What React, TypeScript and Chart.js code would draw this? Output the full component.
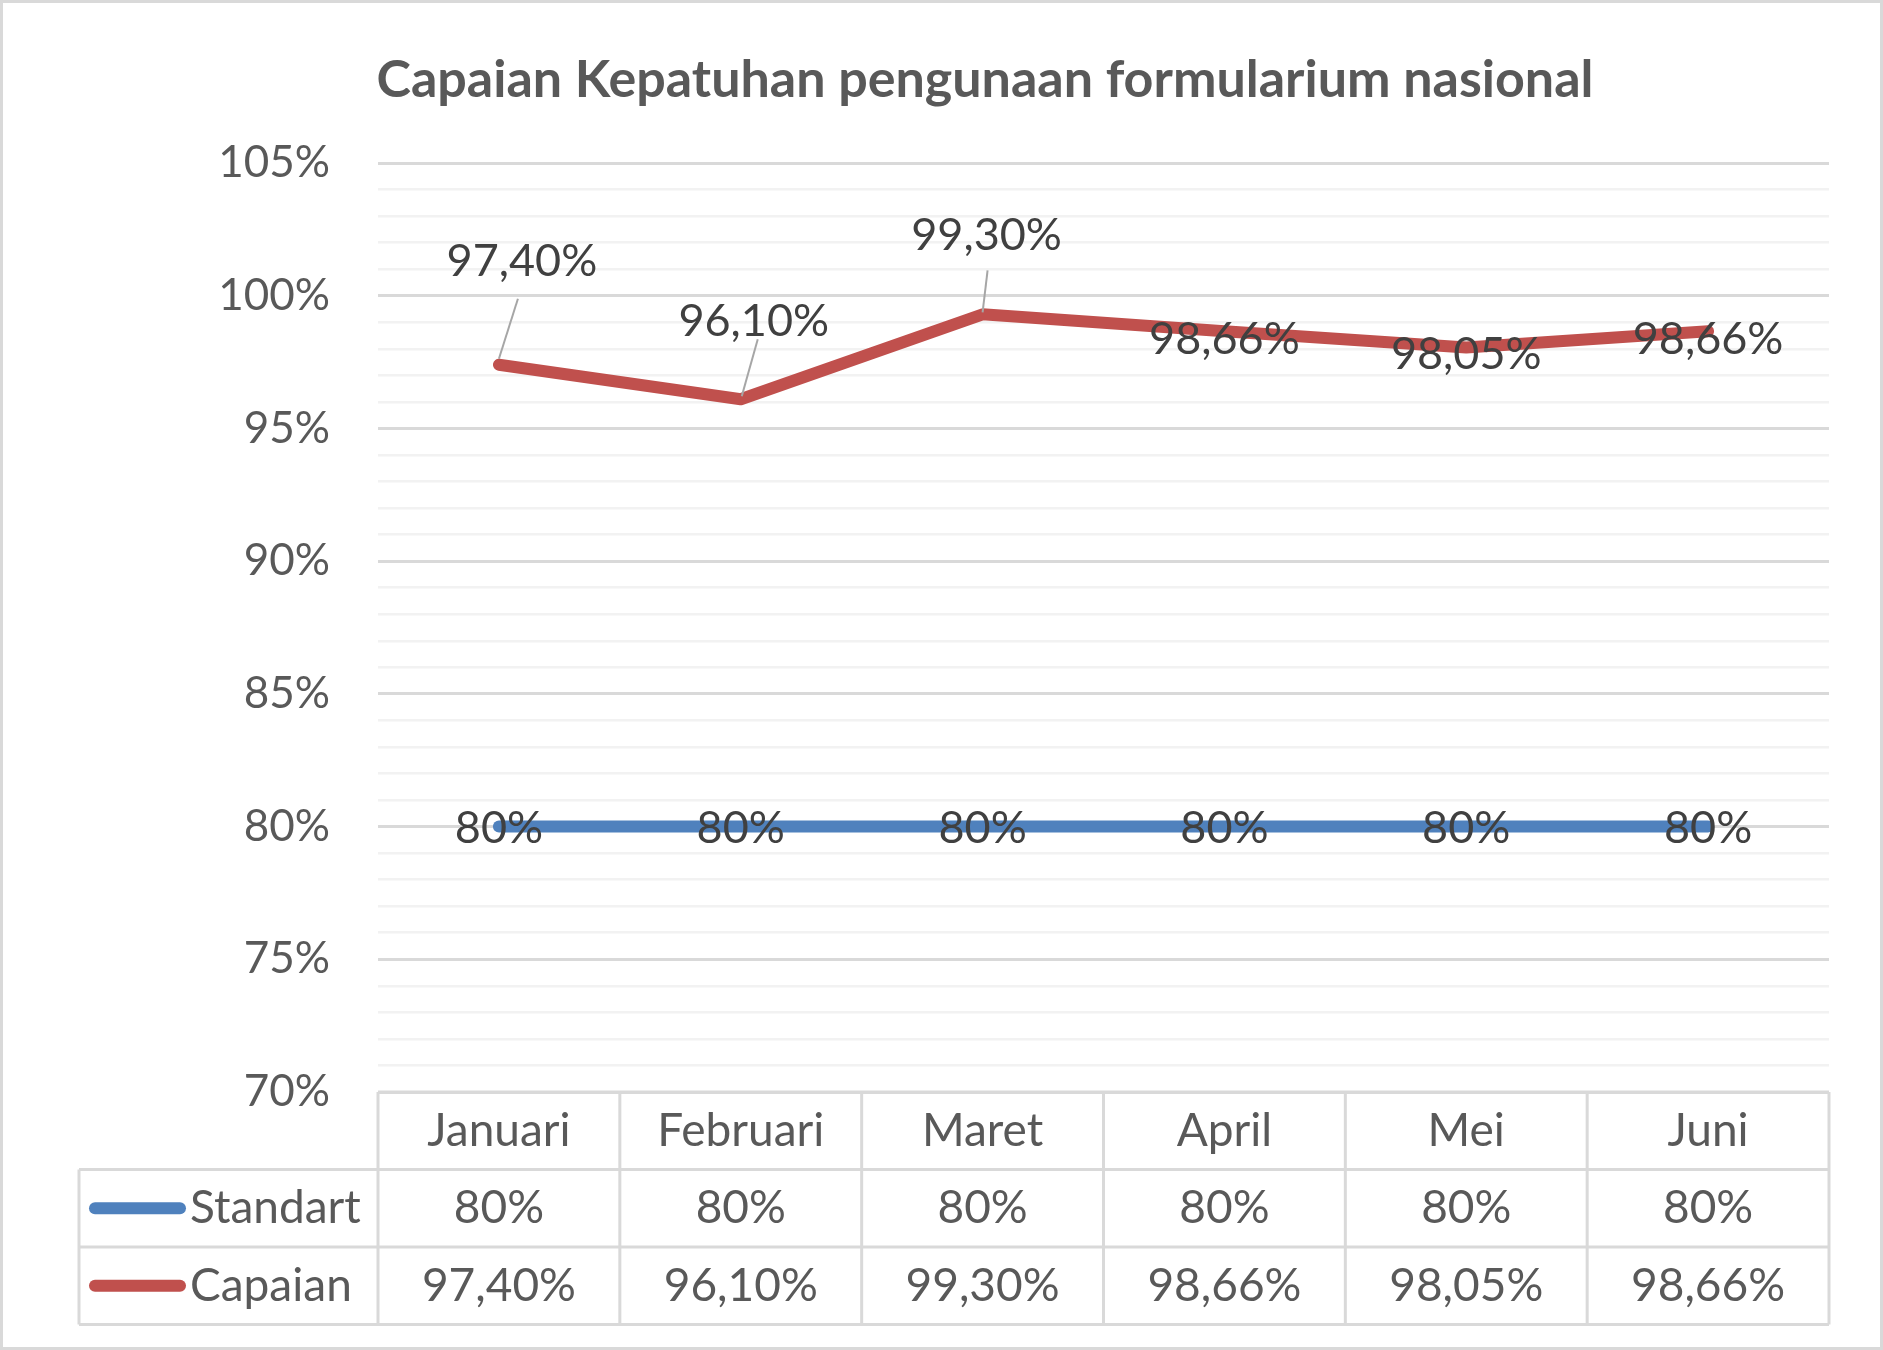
import { useEffect, useRef } from "react"
import { Chart, registerables } from "chart.js"

Chart.register(...registerables)

const months = ["Januari", "Februari", "Maret", "April", "Mei", "Juni"]
const standart = [80, 80, 80, 80, 80, 80]
const capaian = [97.4, 96.1, 99.3, 98.66, 98.05, 98.66]
const standartText = ["80%", "80%", "80%", "80%", "80%", "80%"]
const capaianText = ["97,40%", "96,10%", "99,30%", "98,66%", "98,05%", "98,66%"]
const yMin = 70
const yMax = 105
const majorStep = 5

const TITLE = "Capaian Kepatuhan pengunaan formularium nasional"
const FONT = "Lato, 'Open Sans', sans-serif"
const GRAY = "#595959"
const DARK = "#404040"
const LINE_GRID = "#D9D9D9"
const RED = "#C0504D"
const BLUE = "#4F81BD"

const W = 1883
const H = 1350

// where the Capaian labels sit relative to their points (label dx, dy, leader or not)
const capaianLabelPos = [
  { dx: 23, dy: -103, leader: [0, -6, 19, -66] },
  { dx: 13, dy: -78, leader: [1, -3, 17, -60] },
  { dx: 4, dy: -79, leader: [0, -2, 5, -44] },
  { dx: 0, dy: 8, leader: null },
  { dx: 0, dy: 7, leader: null },
  { dx: 0, dy: 8, leader: null },
]

const sheetPlugin = {
  id: "sheet",
  beforeDraw(chart: any) {
    const ctx = chart.ctx
    ctx.save()
    ctx.fillStyle = "#fff"
    ctx.fillRect(0, 0, W, H)
    ctx.strokeStyle = LINE_GRID
    ctx.lineWidth = 3
    ctx.strokeRect(1.5, 1.5, W - 3, H - 3)
    ctx.fillStyle = GRAY
    ctx.font = `bold 52px ${FONT}`
    ctx.textAlign = "center"
    ctx.textBaseline = "middle"
    ctx.fillText(TITLE, 985, 80)
    ctx.restore()
  },
  afterDatasetsDraw(chart: any) {
    const ctx = chart.ctx
    ctx.save()
    ctx.font = `45px ${FONT}`
    ctx.fillStyle = DARK
    ctx.textAlign = "center"
    ctx.textBaseline = "middle"
    const m0 = chart.getDatasetMeta(0)
    m0.data.forEach((p: any, i: number) => {
      ctx.fillText(standartText[i], p.x, p.y + 2)
    })
    const m1 = chart.getDatasetMeta(1)
    m1.data.forEach((p: any, i: number) => {
      const pos = capaianLabelPos[i]
      if (pos.leader) {
        const [x1, y1, x2, y2] = pos.leader
        ctx.strokeStyle = "#A6A6A6"
        ctx.lineWidth = 2
        ctx.beginPath()
        ctx.moveTo(p.x + x1, p.y + y1)
        ctx.lineTo(p.x + x2, p.y + y2)
        ctx.stroke()
      }
      ctx.fillText(capaianText[i], p.x + pos.dx, p.y + pos.dy)
    })
    ctx.restore()
  },
  afterDraw(chart: any) {
    const ctx = chart.ctx
    const { left, right, bottom } = chart.chartArea
    const colW = (right - left) / months.length
    const rowH = 77.5
    const tableLeft = 79
    const r1 = bottom + rowH
    const r2 = bottom + rowH * 2
    const r3 = bottom + rowH * 3
    ctx.save()
    ctx.strokeStyle = LINE_GRID
    ctx.lineWidth = 3
    ctx.beginPath()
    ctx.moveTo(left, bottom)
    ctx.lineTo(right, bottom)
    for (const y of [r1, r2, r3]) {
      ctx.moveTo(tableLeft, y)
      ctx.lineTo(right, y)
    }
    for (let i = 0; i <= months.length; i++) {
      const x = left + colW * i
      ctx.moveTo(x, bottom)
      ctx.lineTo(x, r3)
    }
    ctx.moveTo(tableLeft, r1)
    ctx.lineTo(tableLeft, r3)
    ctx.stroke()

    ctx.font = `46px ${FONT}`
    ctx.fillStyle = GRAY
    ctx.textAlign = "center"
    ctx.textBaseline = "middle"
    const xs = chart.scales.x
    months.forEach((m, i) => {
      const x = xs.getPixelForValue(i)
      ctx.fillText(m, x, bottom + rowH / 2)
      ctx.fillText(standartText[i], x, r1 + rowH / 2)
      ctx.fillText(capaianText[i], x, r2 + rowH / 2)
    })

    // legend keys in the first column
    const keys = [
      { label: "Standart", color: BLUE, y: r1 + rowH / 2 },
      { label: "Capaian", color: RED, y: r2 + rowH / 2 },
    ]
    keys.forEach((k) => {
      ctx.strokeStyle = k.color
      ctx.lineWidth = 12
      ctx.lineCap = "round"
      ctx.beginPath()
      ctx.moveTo(95, k.y)
      ctx.lineTo(180, k.y)
      ctx.stroke()
      ctx.textAlign = "left"
      ctx.fillStyle = GRAY
      ctx.fillText(k.label, 190, k.y)
    })
    ctx.restore()
  },
}

export default function App() {
  const chartRef = useRef<HTMLCanvasElement | null>(null)
  const chartInstanceRef = useRef<Chart | null>(null)

  useEffect(() => {
    document.body.style.margin = "0"
    if (!chartRef.current) return
    const ctx = chartRef.current.getContext("2d")
    if (!ctx) return

    if (chartInstanceRef.current) {
      chartInstanceRef.current.destroy()
    }

    chartInstanceRef.current = new Chart(ctx, {
      type: "line",
      data: {
        labels: months,
        datasets: [
          {
            label: "Standart",
            data: standart,
            borderColor: BLUE,
            backgroundColor: BLUE,
            borderWidth: 12,
            borderCapStyle: "round",
            borderJoinStyle: "round",
            pointRadius: 0,
            tension: 0,
          },
          {
            label: "Capaian",
            data: capaian,
            borderColor: RED,
            backgroundColor: RED,
            borderWidth: 12,
            borderCapStyle: "round",
            borderJoinStyle: "round",
            pointRadius: 0,
            tension: 0,
          },
        ],
      },
      options: {
        responsive: false,
        animation: false,
        devicePixelRatio: 1,
        layout: { padding: { top: 163, bottom: H - 1092, right: W - 1829, left: 0 } },
        plugins: {
          legend: { display: false },
          title: { display: false },
          tooltip: { enabled: false },
        },
        scales: {
          x: {
            display: false,
            offset: true,
          },
          y: {
            min: yMin,
            max: yMax,
            afterFit: (scale: any) => {
              scale.width = 378
            },
            border: { display: false },
            grid: {
              drawTicks: false,
              color: (c: any) => (c.tick && c.tick.value % majorStep === 0 ? LINE_GRID : "#F2F2F2"),
              lineWidth: (c: any) => (c.tick && c.tick.value % majorStep === 0 ? 3 : 2.5),
            },
            ticks: {
              stepSize: 1,
              autoSkip: false,
              padding: 48,
              color: GRAY,
              font: { family: FONT, size: 44 },
              callback: (v: any) => (Number(v) % majorStep === 0 ? `${v}%` : ""),
            },
          },
        },
      },
      plugins: [sheetPlugin],
    } as any)

    return () => {
      if (chartInstanceRef.current) {
        chartInstanceRef.current.destroy()
        chartInstanceRef.current = null
      }
    }
  }, [])

  return <canvas ref={chartRef} width={W} height={H} style={{ display: "block" }}></canvas>
}
